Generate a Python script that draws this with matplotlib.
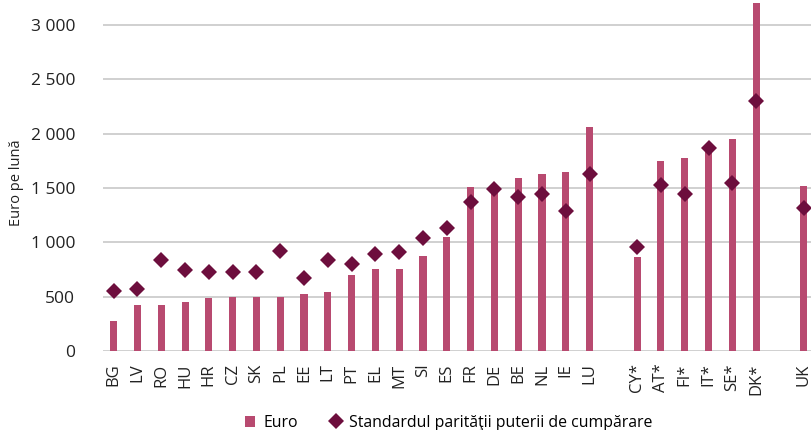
import matplotlib.pyplot as plt

plt.rcParams['font.family'] = ['Open Sans', 'DejaVu Sans']

# Monthly wages ('' = empty slot between groups)
countries = ['BG', 'LV', 'RO', 'HU', 'HR', 'CZ', 'SK', 'PL', 'EE', 'LT', 'PT', 'EL', 'MT',
             'SI', 'ES', 'FR', 'DE', 'BE', 'NL', 'IE', 'LU', '',
             'CY*', 'AT*', 'FI*', 'IT*', 'SE*', 'DK*', '', 'UK']
euro = [277, 425, 425, 450, 488, 497, 497, 497, 524, 543, 699, 754, 754,
        874, 1049, 1510, 1500, 1592, 1628, 1647, 2061, None,
        865, 1748, 1776, 1870, 1950, 3200, None, 1518]
pps = [552, 570, 837, 745, 730, 727, 730, 920, 672, 837, 800, 892, 911,
       1040, 1132, 1371, 1490, 1417, 1444, 1288, 1628, None,
       957, 1527, 1444, 1867, 1545, 2300, None, 1316]

bar_color = '#B84A70'
dot_color = '#6D0E3D'

fig = plt.figure(figsize=(8.12, 4.30), dpi=100)
ax = fig.add_axes([103 / 812, 79 / 430, 709 / 812, 351 / 430])

x = list(range(len(countries)))
bx = [i for i, v in zip(x, euro) if v is not None]
bv = [v for v in euro if v is not None]
px = [i for i, v in zip(x, pps) if v is not None]
pv = [v for v in pps if v is not None]

bars = ax.bar(bx, bv, width=0.3, color=bar_color, label='Euro', zorder=2)
dots, = ax.plot(px, pv, linestyle='none', marker='D', markersize=8, color=dot_color,
                markeredgewidth=0, label='Standardul parităţii puterii de cumpărare', zorder=3)

ax.set_xlim(-0.45, 29.35)
ax.set_ylim(0, 3230)
ax.set_yticks([0, 500, 1000, 1500, 2000, 2500, 3000])
ax.set_yticklabels(['0', '500', '1 000', '1 500', '2 000', '2 500', '3 000'])
ax.set_xticks(x)
ax.set_xticklabels(countries, rotation=90)
ax.tick_params(axis='y', length=0, pad=20, labelsize=12.5, colors='#222222')
ax.tick_params(axis='x', length=0, pad=9, labelsize=12, colors='#222222')
ax.grid(axis='y', color='#C8C8C8', linewidth=1.2, zorder=0)
ax.set_axisbelow(True)
for s in ax.spines.values():
    s.set_visible(False)

ax.set_ylabel('Euro pe lună', fontsize=10.5, color='#222222')
ax.yaxis.set_label_coords(-0.112, 0.48)

fig.legend(handles=[bars, dots], loc='center', bbox_to_anchor=(0.553, 0.017), ncol=2,
           frameon=False, fontsize=11.4, handlelength=0.65, handletextpad=0.5,
           columnspacing=2.1, borderpad=0)

fig.savefig('out.png', dpi=100)
